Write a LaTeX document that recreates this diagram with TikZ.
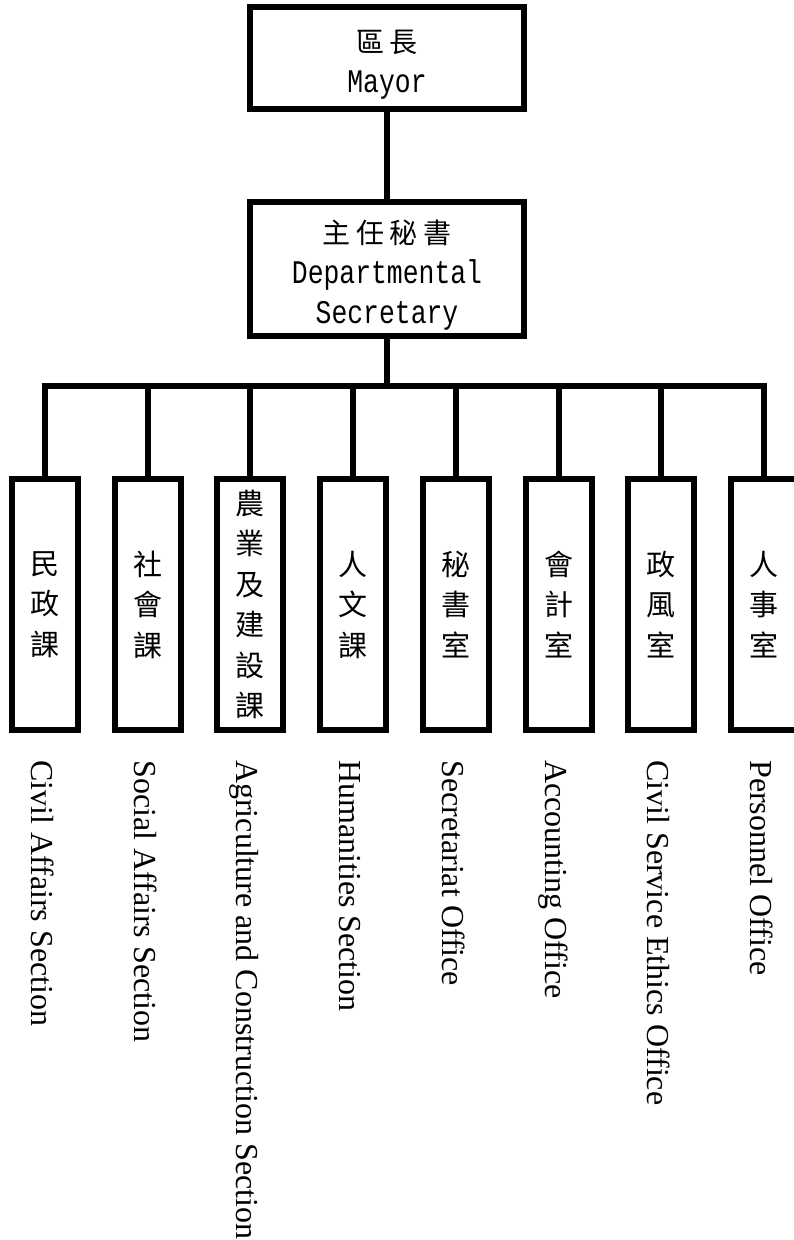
\documentclass[tikz,border=0pt]{standalone}
\usepackage{fontspec}
\setmainfont{Liberation Serif}
\newfontfamily\zhfont{Noto Sans CJK TC}
\newfontfamily\zhwide[LetterSpace=20]{Noto Sans CJK TC}
\newfontfamily\latmono[FakeStretch=0.8]{Liberation Mono}
\newcommand{\headstrut}{\rule{0pt}{36pt}}
\usepackage{tikz}

\begin{document}
\begin{tikzpicture}[
  x=1pt, y=-1pt,
  head/.style={
    draw=black,
    line width=6pt,
    fill=white,
    align=center,
    inner sep=0pt,
    minimum width=274,
    minimum height=102,
    font=\fontsize{28}{40}\selectfont
  },
  unit/.style={
    draw=black,
    line width=6pt,
    fill=white,
    align=center,
    inner sep=0pt,
    minimum width=66,
    minimum height=251,
    font=\fontsize{29}{40.5}\selectfont\zhfont
  },
  caption/.style={
    rotate=-90,
    anchor=base west,
    inner sep=0pt,
    font=\fontsize{32}{38}\selectfont
  },
  link/.style={line width=6pt, draw=black}
]
  \useasboundingbox (0,0) rectangle (793,1240);

  \node[head] (mayor) at (387,58)
    {\headstrut{\zhwide 區長}\\{\fontsize{33}{40}\selectfont\latmono Mayor}};
  \node[head, minimum height=134] (sec) at (387,269)
    {\headstrut{\zhwide 主任秘書}\\{\fontsize{33}{40}\selectfont\latmono Departmental}\\%
     {\fontsize{33}{40}\selectfont\latmono Secretary}};

  \coordinate (bus) at (387,386);

  \node[unit] (civil) at (45,604.5) {民\\政\\課};
  \node[unit] (social) at (148,604.5) {社\\會\\課};
  \node[unit] (agri) at (250,604.5) {農\\業\\及\\建\\設\\課};
  \node[unit] (human) at (353,604.5) {人\\文\\課};
  \node[unit] (secoff) at (456,604.5) {秘\\書\\室};
  \node[unit] (account) at (559,604.5) {會\\計\\室};
  \node[unit] (ethics) at (661,604.5) {政\\風\\室};
  \node[unit] (person) at (764,604.5) {人\\事\\室};

  \node[caption] (civiltxt) at (31,760) {Civil Affairs Section};
  \node[caption] (socialtxt) at (134,760) {Social Affairs Section};
  \node[caption] (agritxt) at (236,760) {Agriculture and Construction Section};
  \node[caption] (humantxt) at (339,760) {Humanities Section};
  \node[caption] (secofftxt) at (442,760) {Secretariat Office};
  \node[caption] (accounttxt) at (545,760) {Accounting Office};
  \node[caption] (ethicstxt) at (647,760) {Civil Service Ethics Office};
  \node[caption] (persontxt) at (750,760) {Personnel Office};

  \draw[link] (mayor) -- (sec);
  \draw[link] (sec) -- (bus);
  \draw[link] (bus) -| (civil);
  \draw[link] (bus) -| (social);
  \draw[link] (bus) -| (agri);
  \draw[link] (bus) -| (human);
  \draw[link] (bus) -| (secoff);
  \draw[link] (bus) -| (account);
  \draw[link] (bus) -| (ethics);
  \draw[link] (bus) -| (person);
\end{tikzpicture}
\end{document}
